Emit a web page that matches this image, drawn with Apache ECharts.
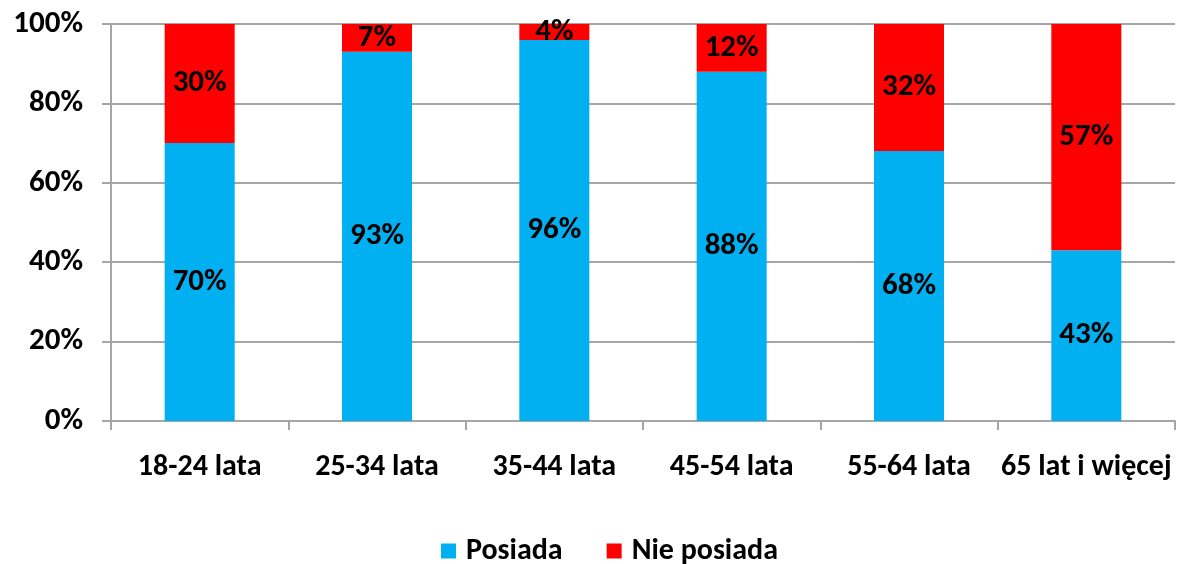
<!DOCTYPE html>
<html>
<head>
<meta charset="utf-8">
<script src="https://cdn.jsdelivr.net/npm/echarts@6/dist/echarts.min.js"></script>
<style>
html,body{margin:0;padding:0;background:#fff;}
#c{width:1177px;height:564px;}
</style>
</head>
<body>
<div id="c"></div>
<script>
const categories = ['18-24 lata', '25-34 lata', '35-44 lata', '45-54 lata', '55-64 lata', '65 lat i więcej'];
const posiada = [70, 93, 96, 88, 68, 43];
const niePosiada = [30, 7, 4, 12, 32, 57];
const yTicks = [0, 20, 40, 60, 80, 100];

const FONT = "Carlito, 'Liberation Sans Narrow', 'DejaVu Sans Condensed', 'Open Sans', sans-serif";
const chart = echarts.init(document.getElementById('c'));
const labelCfg = {
  show: true, position: 'inside', formatter: '{c}%',
  color: '#000', fontSize: 31, fontWeight: 'bold', fontFamily: FONT
};
chart.setOption({
  animation: false,
  textStyle: { fontFamily: FONT },
  grid: { left: 111, right: 2, top: 24, bottom: 143, containLabel: false },
  legend: {
    top: 531, left: 436, icon: 'rect', itemWidth: 15, itemHeight: 15, itemGap: 44,
    textStyle: { fontSize: 30, fontWeight: 'bold', color: '#000', fontFamily: FONT, padding: [0, 0, 0, 5] },
    data: ['Posiada', 'Nie posiada']
  },
  xAxis: {
    type: 'category', data: categories,
    axisLine: { show: true, lineStyle: { color: '#a6a6a6', width: 2 } },
    axisTick: { show: true, interval: 0, length: 9, lineStyle: { color: '#a6a6a6', width: 2 } },
    axisLabel: { interval: 0, margin: 31, fontSize: 30, fontWeight: 'bold', color: '#000', fontFamily: FONT }
  },
  yAxis: {
    type: 'value', min: 0, max: 100, interval: 20,
    axisLine: { show: true, lineStyle: { color: '#a6a6a6', width: 2 } },
    axisTick: { show: true, length: 9, lineStyle: { color: '#a6a6a6', width: 2 } },
    splitLine: { show: true, lineStyle: { color: '#a6a6a6', width: 2 } },
    axisLabel: {
      margin: 28, fontSize: 31, fontWeight: 'bold', color: '#000', fontFamily: FONT,
      formatter: v => (yTicks.includes(v) ? v + '%' : '')
    }
  },
  series: [
    { name: 'Posiada', type: 'bar', stack: 'a', data: posiada, barWidth: 70,
      itemStyle: { color: '#00b0f0' }, label: labelCfg },
    { name: 'Nie posiada', type: 'bar', stack: 'a', data: niePosiada, barWidth: 70,
      itemStyle: { color: '#ff0000' }, label: labelCfg }
  ]
});
</script>
</body>
</html>
